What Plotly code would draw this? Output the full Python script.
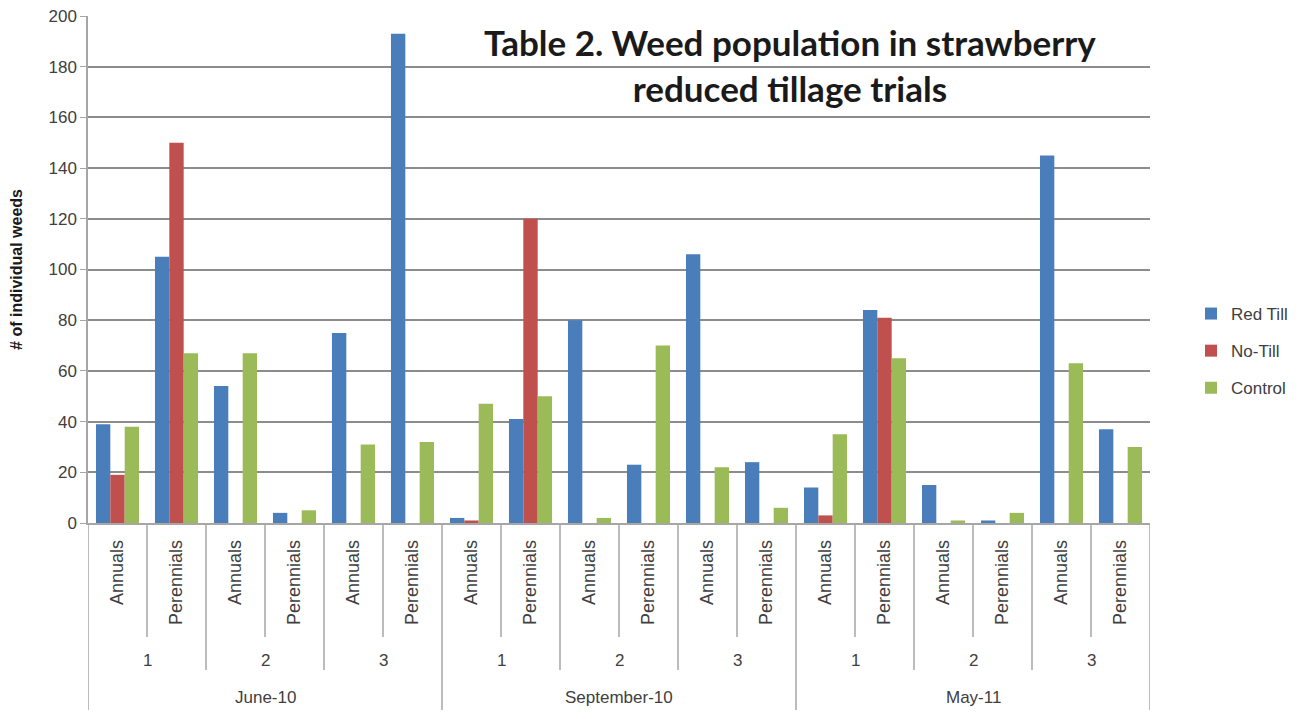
import plotly.graph_objects as go

months = ["June-10", "September-10", "May-11"]
reps = ["1", "2", "3"]
types = ["Annuals", "Perennials"]

red_till = [39, 105, 54, 4, 75, 193,
            2, 41, 80, 23, 106, 24,
            14, 84, 15, 1, 145, 37]
no_till = [19, 150, 0, 0, 0, 0,
           1, 120, 0, 0, 0, 0,
           3, 81, 0, 0, 0, 0]
control = [38, 67, 67, 5, 31, 32,
           47, 50, 2, 70, 22, 6,
           35, 65, 1, 4, 63, 30]

series = [("Red Till", red_till, "#4A7EBB"),
          ("No-Till", no_till, "#C0504D"),
          ("Control", control, "#9BBB59")]

cats = [t for m in months for r in reps for t in types]
xs = list(range(len(cats)))

fig = go.Figure()
for name, vals, col in series:
    fig.add_trace(go.Bar(x=xs, y=vals, name=name, legendgroup=name,
                         marker=dict(color=col, line=dict(width=0))))

W, H = 1299, 719
L, R = 88, 1150
TOP, BOT = 16, 523
def py(p):
    return (BOT - p) / (BOT - TOP)
def px(p):
    return (p - L) / (R - L)

line_col = "#A6A6A6"
shapes = []
n_types = len(types)
n_per_month = len(reps) * n_types
for i in range(len(cats) + 1):
    xv = i - 0.5
    if i % n_per_month == 0:
        bottom = 710
    elif i % n_types == 0:
        bottom = 670
    else:
        bottom = 637
    shapes.append(dict(type="line", xref="x", yref="paper", x0=xv, x1=xv,
                       y0=py(BOT), y1=py(bottom), line=dict(color=line_col, width=1.5)))

annotations = []
lab_font = dict(family="Liberation Sans, Arial", size=17, color="#404040")
for mi, m in enumerate(months):
    for ri, r in enumerate(reps):
        c = mi * n_per_month + ri * n_types + (n_types - 1) / 2
        annotations.append(dict(x=c, y=py(660), xref="x", yref="paper", text=r,
                                yanchor="middle", showarrow=False, font=lab_font))
    c = mi * n_per_month + (n_per_month - 1) / 2
    annotations.append(dict(x=c, y=py(697), xref="x", yref="paper", text=m,
                            yanchor="middle", showarrow=False, font=lab_font))

annotations.append(dict(x=px(790), y=py(65), xref="paper", yref="paper",
                        xanchor="center", yanchor="middle",
                        text="<b>Table 2. Weed population in strawberry<br>reduced tillage trials</b>",
                        showarrow=False,
                        font=dict(family="Lato, Open Sans", size=35, color="#1a1a1a")))

fig.update_layout(
    width=W, height=H,
    margin=dict(l=L, r=W - R, t=TOP, b=H - BOT, autoexpand=False),
    plot_bgcolor="white", paper_bgcolor="white",
    barmode="group", bargap=0.27, bargroupgap=0.0,
    font=dict(family="Liberation Sans, Arial", color="#404040"),
    xaxis=dict(range=[-0.5, len(cats) - 0.5], tickvals=xs, ticktext=cats,
               tickangle=-90, showgrid=False, showline=True, linecolor=line_col,
               linewidth=1.5, ticks="", tickfont=dict(size=18, color="#404040"),
               ticklabelstandoff=8, zeroline=False),
    yaxis=dict(range=[0, 200], dtick=20, showgrid=True, gridcolor="#8C8C8C", gridwidth=1.5,
               showline=True, linecolor=line_col, linewidth=1.5, ticks="outside",
               ticklen=6, tickcolor=line_col, tickfont=dict(size=17, color="#404040"),
               zeroline=False,
               title=dict(text="<b># of individual weeds</b>", font=dict(size=16, color="#1a1a1a"),
                          standoff=22)),
    legend=dict(x=px(1191), y=py(296), xanchor="left", yanchor="top",
                font=dict(size=17, color="#404040"), tracegroupgap=12,
                itemwidth=30),
    shapes=shapes, annotations=annotations,
)

fig.write_html("out.html")
